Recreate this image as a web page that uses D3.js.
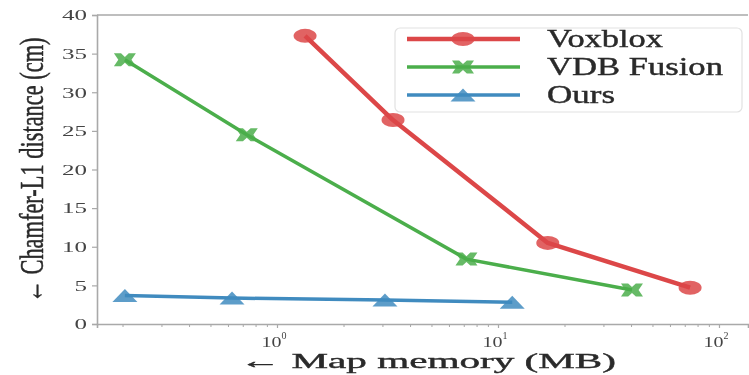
<!DOCTYPE html>
<html><head><meta charset="utf-8">
<script src="https://cdn.jsdelivr.net/npm/d3@7"></script>
<style>html,body{margin:0;padding:0;background:#fff;}svg{display:block;filter:blur(0.5px);}</style>
</head><body>
<svg id="c" width="749" height="375"></svg>
<script>
// ---- data ----
const seriesNames = ["Voxblox", "VDB Fusion", "Ours"];
const voxbloxMem  = [1.34, 3.35, 16.8, 74];
const voxbloxDist = [37.3, 26.4, 10.5, 4.7];
const vdbMem      = [0.205, 0.73, 7.2, 40.4];
const vdbDist     = [34.2, 24.5, 8.4, 4.4];
const oursMem     = [0.205, 0.626, 3.08, 11.6];
const oursDist    = [3.7, 3.35, 3.1, 2.8];
const yTicks = [0, 5, 10, 15, 20, 25, 30, 35, 40];
const xMajorTicks = [1, 10, 100];
const xMajorExp = ["0", "1", "2"];
const xDomain = [0.1533, 135.3];
const yDomain = [0, 40];
const xLabel = "\u2190 Map memory (MB)";
const yLabel = "\u2190 Chamfer-L1 distance (cm)";

// ---- layout ----
const svg = d3.select("#c");
const L = 97, R = 748, T = 15, B = 324;
const x = d3.scaleLog().domain(xDomain).range([L, R]);
const y = d3.scaleLinear().domain(yDomain).range([B, T]);
const spineColor = "#a9a9a9";
const textColor = "#2a2a2a";
const font = "'Liberation Serif','DejaVu Serif',serif";

// spines
svg.append("line").attr("x1", L).attr("x2", R).attr("y1", T).attr("y2", T)
  .attr("stroke", spineColor).attr("stroke-width", 1.6);

// y axis
const yAxis = svg.append("g").attr("transform", `translate(${L},0)`)
  .call(d3.axisLeft(y).tickValues(yTicks).tickSize(5).tickPadding(5).tickFormat(d3.format("d")));
yAxis.select(".domain").attr("stroke", spineColor).attr("stroke-width", 1.6);
yAxis.selectAll(".tick line").attr("stroke", spineColor).attr("stroke-width", 1.2);
yAxis.selectAll(".tick text").attr("font-family", font).attr("font-size", 15)
  .attr("fill", "#444")
  .attr("textLength", d => String(d).length * 12.5).attr("lengthAdjust", "spacingAndGlyphs");

// x axis
const minorTicks = [];
[0.1, 1, 10, 100].forEach(dec => { for (let k = 2; k <= 9; k++) { const v = dec * k; if (v > xDomain[0] && v < xDomain[1]) minorTicks.push(v); } });
const xAxis = svg.append("g").attr("transform", `translate(0,${B})`)
  .call(d3.axisBottom(x).tickValues(xMajorTicks).tickSize(4).tickFormat(""));
xAxis.select(".domain").attr("stroke", spineColor).attr("stroke-width", 1.6);
xAxis.selectAll(".tick line").attr("stroke", spineColor).attr("stroke-width", 1.2);
const xMinor = svg.append("g").attr("transform", `translate(0,${B})`)
  .call(d3.axisBottom(x).tickValues(minorTicks).tickSize(3).tickFormat(""));
xMinor.select(".domain").remove();
xMinor.selectAll(".tick line").attr("stroke", spineColor).attr("stroke-width", 1);

xMajorTicks.forEach((v, i) => {
  const t = svg.append("text").attr("x", x(v) - 3).attr("y", 347)
    .attr("text-anchor", "middle").attr("font-family", font).attr("font-size", 15)
    .attr("fill", "#444");
  t.append("tspan").text("10").attr("textLength", 20).attr("lengthAdjust", "spacingAndGlyphs");
  t.append("tspan").attr("dy", -8).attr("font-size", 10).text(xMajorExp[i]);
});

// axis labels
svg.append("text").attr("x", 240).attr("y", 368)
  .attr("font-family", font).attr("font-size", 21).attr("fill", textColor)
  .attr("stroke", textColor).attr("stroke-width", 0.4)
  .attr("textLength", 376).attr("lengthAdjust", "spacingAndGlyphs").text(xLabel);
svg.append("text").attr("transform", "translate(43,170) scale(1.65,1) rotate(-90)")
  .attr("text-anchor", "middle").attr("font-family", font).attr("font-size", 20)
  .attr("fill", textColor).attr("stroke", textColor).attr("stroke-width", 0.3)
  .attr("textLength", 265).attr("lengthAdjust", "spacingAndGlyphs").text(yLabel);

// ---- series ----
const colors = ["#d62728", "#2ca02c", "#1f77b4"];
const widths = [4.5, 3.5, 3.5];
const mems = [voxbloxMem, vdbMem, oursMem];
const dists = [voxbloxDist, vdbDist, oursDist];
const xShape = "M-0.35,-1 L0,-0.45 L0.35,-1 L1,-1 L0.6,0 L1,1 L0.35,1 L0,0.45 L-0.35,1 L-1,1 L-0.6,0 L-1,-1 Z";
const triShape = "M0,-1 L1,1 L-1,1 Z";
function drawMarker(g, i, cx, cy) {
  if (i === 0) {
    g.append("ellipse").attr("cx", cx).attr("cy", cy).attr("rx", 11.5).attr("ry", 7)
      .attr("fill", colors[i]).attr("fill-opacity", 0.85);
  } else if (i === 1) {
    g.append("path").attr("d", xShape)
      .attr("transform", `translate(${cx},${cy}) scale(11,6.5)`)
      .attr("fill", colors[i]).attr("fill-opacity", 0.85);
  } else {
    g.append("path").attr("d", triShape)
      .attr("transform", `translate(${cx},${cy}) scale(12.5,6.5)`)
      .attr("fill", colors[i]).attr("fill-opacity", 0.85);
  }
}
const line = d3.line().x(d => x(d[0])).y(d => y(d[1]));
mems.forEach((m, i) => {
  const pts = m.map((v, j) => [v, dists[i][j]]);
  const g = svg.append("g").attr("opacity", 0.85);
  g.append("path").datum(pts).attr("d", line).attr("fill", "none")
    .attr("stroke", colors[i]).attr("stroke-width", widths[i]).attr("stroke-linejoin", "round");
  pts.forEach(p => drawMarker(g, i, x(p[0]), y(p[1])));
});

// ---- legend ----
const lg = svg.append("g");
lg.append("rect").attr("x", 395).attr("y", 28).attr("width", 347).attr("height", 84).attr("rx", 5)
  .attr("fill", "#fff").attr("fill-opacity", 0.85).attr("stroke", "#e2e2e2").attr("stroke-width", 1.2);
const rowY = [39, 67, 95];
const textLens = [116, 176, 68];
seriesNames.forEach((name, i) => {
  const g = lg.append("g").attr("opacity", 0.85);
  g.append("line").attr("x1", 407).attr("x2", 520).attr("y1", rowY[i]).attr("y2", rowY[i])
    .attr("stroke", colors[i]).attr("stroke-width", widths[i]);
  drawMarker(g, i, 463, rowY[i]);
  lg.append("text").attr("x", 547).attr("y", rowY[i] + 8).attr("font-family", font)
    .attr("font-size", 25).attr("fill", textColor).attr("stroke", textColor).attr("stroke-width", 0.4)
    .attr("textLength", textLens[i]).attr("lengthAdjust", "spacingAndGlyphs").text(name);
});
</script>
</body></html>
